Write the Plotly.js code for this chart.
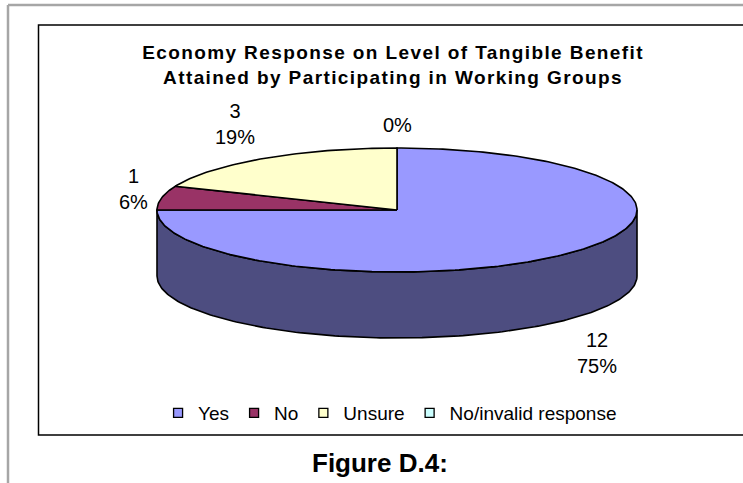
<!DOCTYPE html>
<html>
<head>
<meta charset="utf-8">
<script src="https://cdn.plot.ly/plotly-3.0.1.min.js"></script>
<style>
  html, body { margin: 0; padding: 0; background: #ffffff; }
  #chart { width: 743px; height: 483px; }
  .gtitle { letter-spacing: 1.4px; }
</style>
</head>
<body>
<div id="chart"></div>
<script>
// ---- data ----
const categories = ['Yes', 'No', 'Unsure', 'No/invalid response'];
const counts = [12, 1, 3, 0];
const topColors = ['#9999FF', '#993366', '#FFFFCC', '#CCFFFF'];
const sideColors = ['#4D4D80', '#4D1A33', '#808066', '#668080'];
const chartTitle = 'Economy Response on Level of Tangible Benefit<br>Attained by Participating in Working Groups';
const caption = 'Figure D.4:';

// ---- geometry of the tilted pie (pixel-like axis units) ----
const W = 743, H = 483;
const cx = 397, cy = 210, rx = 240, ry = 62, depth = 66;
const FONT = 'Liberation Sans, Arial, sans-serif';

function pt(theta, dy) {
  const r = theta * Math.PI / 180;
  return [cx + rx * Math.sin(r), cy - ry * Math.cos(r) + dy];
}
function arc(a0, a1, dy) {
  const xs = [], ys = [];
  const n = Math.max(2, Math.ceil(Math.abs(a1 - a0) / 1));
  for (let i = 0; i <= n; i++) {
    const p = pt(a0 + (a1 - a0) * i / n, dy);
    xs.push(p[0]); ys.push(p[1]);
  }
  return [xs, ys];
}

const total = counts.reduce((a, b) => a + b, 0);
const slices = [];
let acc = 0;
counts.forEach((v, i) => {
  const a0 = acc / total * 360;
  acc += v;
  const a1 = acc / total * 360;
  slices.push({ i, v, a0, a1 });
});

const traces = [];
// side walls (front half: 90..270 deg clockwise from top)
slices.forEach(s => {
  if (s.v <= 0) return;
  const st = Math.max(s.a0, 90), en = Math.min(s.a1, 270);
  if (st >= en) return;
  const [tx, ty] = arc(st, en, 0);
  const [bx, by] = arc(en, st, depth);
  traces.push({
    type: 'scatter', mode: 'lines', fill: 'toself',
    x: tx.concat(bx, [tx[0]]), y: ty.concat(by, [ty[0]]),
    fillcolor: sideColors[s.i], line: { color: '#000000', width: 1.6 },
    showlegend: false, hoverinfo: 'skip'
  });
});
// top faces
slices.forEach(s => {
  if (s.v <= 0) return;
  const [ax, ay] = arc(s.a0, s.a1, 0);
  traces.push({
    type: 'scatter', mode: 'lines', fill: 'toself',
    x: [cx].concat(ax, [cx]), y: [cy].concat(ay, [cy]),
    fillcolor: topColors[s.i], line: { color: '#000000', width: 1.6 },
    showlegend: false, hoverinfo: 'skip'
  });
});
// legend entries
categories.forEach((c, i) => {
  traces.push({
    type: 'scatter', mode: 'markers', x: [null], y: [null], name: c,
    marker: { symbol: 'square', size: 9, color: topColors[i], line: { color: '#000000', width: 1.3 } },
    showlegend: true, hoverinfo: 'skip'
  });
});

// data labels (value + percent, placed outside the slice's mid-angle)
const annotations = [];
slices.forEach(s => {
  const m = (s.a0 + s.a1) / 2;
  const r = m * Math.PI / 180;
  const sn = Math.sin(r), cs = Math.cos(r);
  const px = cx + rx * 1.05 * sn;
  const py = cy - ry * 1.15 * cs + (cs < 0 ? depth : 0);
  const lines = [];
  if (s.v > 0) lines.push(String(s.v));
  lines.push(Math.round(s.v / total * 100) + '%');
  const bh = lines.length * 27;
  const f = Math.max(-1, Math.min(1, cs / 0.7));
  const centerY = py - f * bh / 2;
  const xanchor = sn > 0.3 ? 'left' : (sn < -0.3 ? 'right' : 'center');
  annotations.push({
    x: px, y: centerY, xref: 'x', yref: 'y',
    text: lines.join('<br>'), align: 'center', showarrow: false,
    xanchor: xanchor, yanchor: 'middle',
    font: { family: FONT, size: 20, color: '#000000' }
  });
});
annotations.push({
  x: 380, y: 463, xref: 'x', yref: 'y', text: '<b>' + caption + '</b>',
  showarrow: false, xanchor: 'center', yanchor: 'middle',
  font: { family: FONT, size: 26, color: '#000000' }
});

const layout = {
  width: W, height: H, autosize: false,
  margin: { l: 0, r: 0, t: 0, b: 0, pad: 0 },
  paper_bgcolor: '#ffffff', plot_bgcolor: '#ffffff',
  title: {
    text: '<b>' + chartTitle + '</b>',
    font: { family: FONT, size: 19, color: '#000000' },
    x: 0.529, xanchor: 'center', y: 1 - 59 / H, yanchor: 'middle'
  },
  xaxis: { range: [0, W], visible: false, fixedrange: true, domain: [0, 1] },
  yaxis: { range: [H, 0], visible: false, fixedrange: true, domain: [0, 1] },
  showlegend: true,
  legend: {
    orientation: 'h', x: 0.525, xanchor: 'center', y: 1 - 413 / H, yanchor: 'middle',
    font: { family: FONT, size: 19, color: '#000000' },
    itemwidth: 30, tracegroupgap: 0, bgcolor: 'rgba(0,0,0,0)'
  },
  annotations: annotations,
  shapes: [
    { type: 'line', xref: 'x', yref: 'y', x0: 8, y0: 5, x1: W + 5, y1: 5, line: { color: '#A6A6A6', width: 2.5 } },
    { type: 'line', xref: 'x', yref: 'y', x0: 8, y0: 5, x1: 8, y1: H + 5, line: { color: '#A6A6A6', width: 2.5 } },
    { type: 'rect', xref: 'x', yref: 'y', x0: 38.5, y0: 25, x1: W + 10, y1: 435, line: { color: '#000000', width: 1.5 }, fillcolor: 'rgba(0,0,0,0)', layer: 'below' }
  ],
  hovermode: false
};

Plotly.newPlot('chart', traces, layout, { displayModeBar: false, staticPlot: true });
</script>
</body>
</html>
